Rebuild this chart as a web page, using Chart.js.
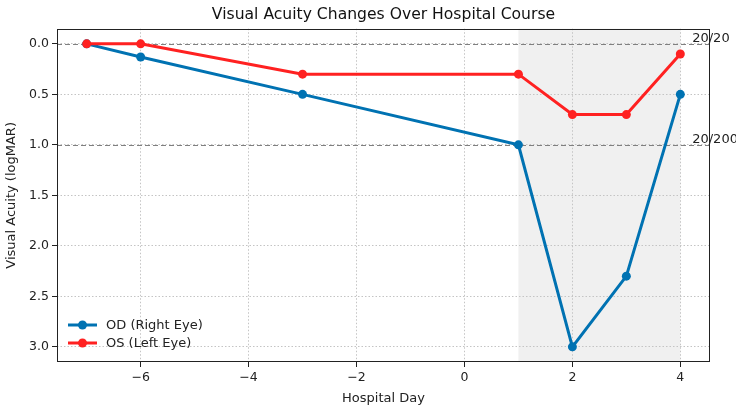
<!DOCTYPE html>
<html lang="en">
<head>
  <meta charset="UTF-8">
  <title>Visual Acuity Changes Over Hospital Course</title>
  <script src="https://cdn.jsdelivr.net/npm/chart.js"></script>
  <style>
    html, body { margin: 0; padding: 0; background: #fff; }
    #wrap { width: 736px; height: 410px; position: relative; }
  </style>
</head>
<body>
  <div id="wrap"><canvas id="acuityChart"></canvas></div>

  <script>
    // data
    const odDays = [-7, -6, -3, 1, 2, 3, 4];
    const odValues = [0.0, 0.13, 0.5, 1.0, 3.0, 2.3, 0.5];
    const osDays = [-7, -6, -3, 1, 2, 3, 4];
    const osValues = [0.0, 0.0, 0.3, 0.3, 0.7, 0.7, 0.1];
    const xTicks = [-6, -4, -2, 0, 2, 4];
    const yTicks = [0.0, 0.5, 1.0, 1.5, 2.0, 2.5, 3.0];
    const refLines = [0.0, 1.0];
    const refLabels = ['20/20', '20/200'];
    const shadeRange = [1, 4];

    const FONT = "'DejaVu Sans', sans-serif";
    const odColor = '#0072b2';
    const osColor = '#ff2121';

    const toPoints = (xs, ys) => xs.map((x, i) => ({ x: x, y: ys[i] }));

    const extras = {
      id: 'extras',
      beforeDraw(chart) {
        const { ctx, chartArea: a, scales: { x } } = chart;
        ctx.save();
        ctx.fillStyle = '#f0f0f0';
        const x0 = x.getPixelForValue(shadeRange[0]);
        const x1 = x.getPixelForValue(shadeRange[1]);
        ctx.fillRect(x0, a.top, x1 - x0, a.bottom - a.top);
        ctx.restore();
      },
      beforeDatasetsDraw(chart) {
        const { ctx, chartArea: a, scales: { y } } = chart;
        ctx.save();
        ctx.strokeStyle = '#808080';
        ctx.lineWidth = 1;
        ctx.setLineDash([5, 3]);
        refLines.forEach(v => {
          const py = Math.round(y.getPixelForValue(v)) + 0.5;
          ctx.beginPath();
          ctx.moveTo(a.left, py);
          ctx.lineTo(a.right, py);
          ctx.stroke();
        });
        ctx.restore();
      },
      afterDraw(chart) {
        const { ctx, chartArea: a, scales: { x, y } } = chart;
        ctx.save();
        // frame
        ctx.strokeStyle = '#222';
        ctx.lineWidth = 1;
        ctx.strokeRect(Math.round(a.left) + 0.5, Math.round(a.top) + 0.5,
          Math.round(a.right - a.left) - 1, Math.round(a.bottom - a.top) - 1);

        // 20/20 and 20/200 labels
        ctx.fillStyle = '#222';
        ctx.font = '13px ' + FONT;
        ctx.textAlign = 'left';
        ctx.textBaseline = 'bottom';
        refLines.forEach((v, i) => {
          ctx.fillText(refLabels[i], x.getPixelForValue(4.22), y.getPixelForValue(v) + 1);
        });

        // legend, matplotlib style (line with marker)
        const lx = a.left + 11;
        let ly = a.bottom - 37;
        chart.data.datasets.forEach(ds => {
          ctx.strokeStyle = ds.borderColor;
          ctx.fillStyle = ds.backgroundColor;
          ctx.lineWidth = 3;
          ctx.setLineDash([]);
          ctx.beginPath();
          ctx.moveTo(lx, ly);
          ctx.lineTo(lx + 29, ly);
          ctx.stroke();
          ctx.beginPath();
          ctx.arc(lx + 14.5, ly, 4.5, 0, Math.PI * 2);
          ctx.fill();
          ctx.fillStyle = '#222';
          ctx.textBaseline = 'middle';
          ctx.fillText(ds.label, lx + 38, ly + 1);
          ly += 18;
        });
        ctx.restore();
      }
    };

    const ctx = document.getElementById('acuityChart').getContext('2d');
    const acuityChart = new Chart(ctx, {
      type: 'line',
      data: {
        datasets: [{
          label: 'OD (Right Eye)',
          data: toPoints(odDays, odValues),
          borderColor: odColor,
          backgroundColor: odColor,
          borderWidth: 3,
          pointRadius: 4.5,
          pointHoverRadius: 4.5,
          pointBorderWidth: 0,
          order: 1
        }, {
          label: 'OS (Left Eye)',
          data: toPoints(osDays, osValues),
          borderColor: osColor,
          backgroundColor: osColor,
          borderWidth: 3,
          pointRadius: 4.5,
          pointHoverRadius: 4.5,
          pointBorderWidth: 0,
          order: 0
        }]
      },
      options: {
        responsive: true,
        maintainAspectRatio: false,
        animation: false,
        layout: { padding: { left: 4, right: 26, top: 0, bottom: 4 } },
        plugins: {
          legend: { display: false },
          tooltip: { enabled: false },
          title: {
            display: true,
            fullSize: false,
            text: 'Visual Acuity Changes Over Hospital Course',
            color: '#111',
            font: { family: FONT, size: 15.6, weight: 'normal' },
            padding: { top: 6, bottom: 4 }
          }
        },
        scales: {
          x: {
            type: 'linear',
            min: -7.55,
            max: 4.55,
            afterBuildTicks: s => { s.ticks = xTicks.map(v => ({ value: v })); },
            afterFit: s => { s.height = 44; },
            ticks: {
              color: '#222',
              font: { family: FONT, size: 12.5 },
              padding: 3,
              callback: v => v < 0 ? '\u2212' + Math.abs(v) : String(v)
            },
            grid: {
              color: '#c4c4c4',
              tickColor: '#222',
              tickBorderDash: [],
              tickLength: 5
            },
            border: { display: false, dash: [1.5, 2] },
            title: {
              display: true,
              text: 'Hospital Day',
              color: '#222',
              font: { family: FONT, size: 13 },
              padding: { top: 2, bottom: 0 }
            }
          },
          y: {
            type: 'linear',
            reverse: true,
            min: -0.15,
            max: 3.15,
            afterBuildTicks: s => { s.ticks = yTicks.map(v => ({ value: v })); },
            afterFit: s => { s.width = 53; },
            ticks: {
              color: '#222',
              font: { family: FONT, size: 12.5 },
              padding: 3,
              callback: v => v.toFixed(1)
            },
            grid: {
              color: '#c4c4c4',
              tickColor: '#222',
              tickBorderDash: [],
              tickLength: 5
            },
            border: { display: false, dash: [1.5, 2] },
            title: {
              display: true,
              text: 'Visual Acuity (logMAR)',
              color: '#222',
              font: { family: FONT, size: 13 },
              padding: { top: 0, bottom: 2 }
            }
          }
        }
      },
      plugins: [extras]
    });
  </script>
</body>
</html>
